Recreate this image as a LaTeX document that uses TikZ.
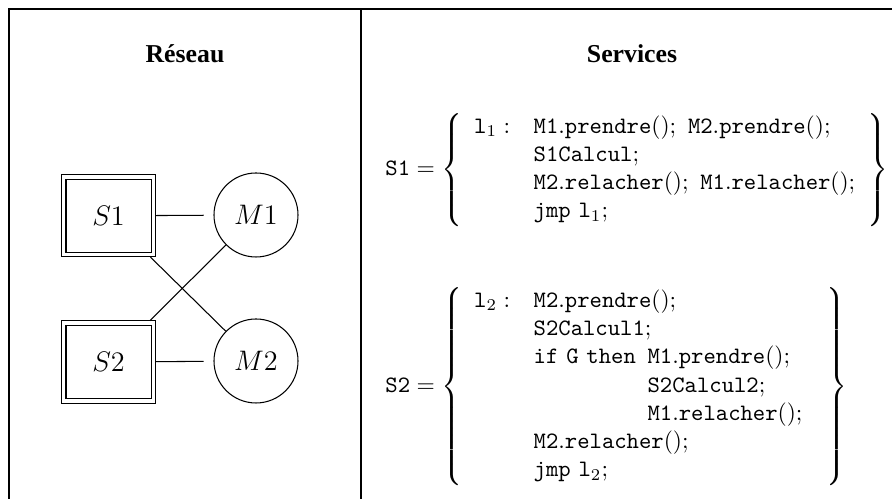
\documentclass[tikz,border=0pt]{standalone}
\usepackage{fontspec}
\newfontfamily\headfont{Liberation Serif}
\tikzset{
  frameline/.style={line width=0.5pt},
  sbox/.style={draw, double, double distance=1.6pt, line width=0.45pt,
    minimum width=38.2pt, minimum height=32.9pt, inner sep=0pt, outer sep=1.1pt,
    font=\fontsize{11.5}{14}\selectfont},
  mcirc/.style={draw, circle, line width=0.45pt, minimum size=35.7pt, inner sep=0pt,
    font=\fontsize{11.5}{14}\selectfont},
  link/.style={line width=0.45pt},
  hlink/.style={link, shorten >=4.2pt},
  head/.style={font=\headfont\bfseries\fontsize{10.95}{13}\selectfont, anchor=base, inner sep=0pt},
  code/.style={anchor=west, inner sep=0pt, font=\fontsize{10}{12}\selectfont}
}
\begin{document}
\begin{tikzpicture}[x=0.425pt, y=-0.425pt]
\useasboundingbox (0,0) rectangle (892,499);
% frame
\coordinate (tl) at (9,9);
\coordinate (tr) at (892,9);
\coordinate (bl) at (9,499);
\coordinate (dt) at (361,9);
\coordinate (db) at (361,499);
\draw[frameline] (bl) -- (tl) -- (tr);
\draw[frameline] (dt) -- (db);
% headings
\node[head] (h1) at (185,63) {Réseau};
\node[head] (h2) at (632,63) {Services};
% network
\node[sbox] (S1) at (108.5,215.8) {$S1$};
\node[sbox] (S2) at (108.5,362) {$S2$};
\node[mcirc] (M1) at (256,215) {$M1$};
\node[mcirc] (M2) at (256,361) {$M2$};
\draw[hlink] (S1) -- (M1);
\draw[hlink] (S2) -- (M2);
\draw[link] (S1) -- (M2);
\draw[link] (M1) -- (S2);
% services
\node[code] (c1) at (385,170) {$\mathtt{S1} = \left\{\begin{array}{ll}
\mathtt{l}_1: & \mathtt{M1}.\mathtt{prendre}();\ \mathtt{M2}.\mathtt{prendre}();\\
 & \mathtt{S1Calcul};\\
 & \mathtt{M2}.\mathtt{relacher}();\ \mathtt{M1}.\mathtt{relacher}();\\
 & \mathtt{jmp}\ \mathtt{l}_1;
\end{array}\right\}$};
\node[code] (c2) at (385,386.5) {$\mathtt{S2} = \left\{\begin{array}{ll}
\mathtt{l}_2: & \mathtt{M2}.\mathtt{prendre}();\\
 & \mathtt{S2Calcul1};\\
 & \mathtt{if}\ \mathtt{G}\ \mathtt{then}\begin{array}[t]{l}
     \mathtt{M1}.\mathtt{prendre}();\\
     \mathtt{S2Calcul2};\\
     \mathtt{M1}.\mathtt{relacher}();
   \end{array}\\
 & \mathtt{M2}.\mathtt{relacher}();\\
 & \mathtt{jmp}\ \mathtt{l}_2;
\end{array}\right\}$};
\end{tikzpicture}
\end{document}
